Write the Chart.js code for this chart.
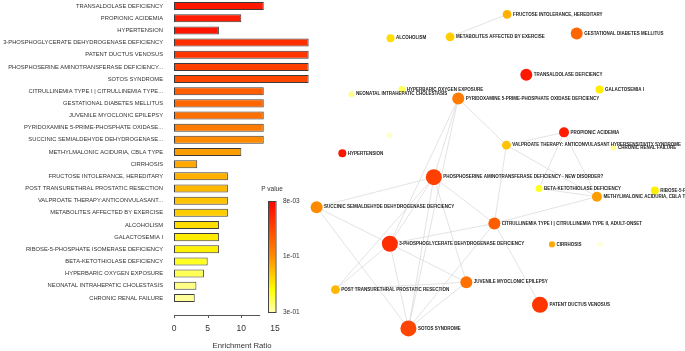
<!DOCTYPE html>
<html>
<head>
<meta charset="utf-8">
<script src="https://cdn.jsdelivr.net/npm/chart.js@4/dist/chart.umd.min.js"></script>
<style>
  body { margin: 0; background: #fff; }
  #wrap { position: relative; width: 685px; height: 351px; overflow: hidden; }
  canvas { position: absolute; left: 0; top: 0; }
</style>
</head>
<body>
<div id="wrap">
  <canvas id="bar-chart" width="310" height="351"></canvas>
  <canvas id="net-chart" width="685" height="351"></canvas>
</div>
<script>
// ---- bar panel data ----
const categories = [
  "TRANSALDOLASE DEFICIENCY", "PROPIONIC ACIDEMIA", "HYPERTENSION",
  "3-PHOSPHOGLYCERATE DEHYDROGENASE DEFICIENCY", "PATENT DUCTUS VENOSUS",
  "PHOSPHOSERINE AMINOTRANSFERASE DEFICIENCY...", "SOTOS SYNDROME",
  "CITRULLINEMIA TYPE I | CITRULLINEMIA TYPE...", "GESTATIONAL DIABETES MELLITUS",
  "JUVENILE MYOCLONIC EPILEPSY", "PYRIDOXAMINE 5-PRIME-PHOSPHATE OXIDASE...",
  "SUCCINIC SEMIALDEHYDE DEHYDROGENASE...", "METHYLMALONIC ACIDURIA, CBLA TYPE",
  "CIRRHOSIS", "FRUCTOSE INTOLERANCE, HEREDITARY", "POST TRANSURETHRAL PROSTATIC RESECTION",
  "VALPROATE THERAPY:ANTICONVULASANT...", "METABOLITES AFFECTED BY EXERCISE",
  "ALCOHOLISM", "GALACTOSEMIA I", "RIBOSE-5-PHOSPHATE ISOMERASE DEFICIENCY",
  "BETA-KETOTHIOLASE DEFICIENCY", "HYPERBARIC OXYGEN EXPOSURE",
  "NEONATAL INTRAHEPATIC CHOLESTASIS", "CHRONIC RENAL FAILURE"
];
const ratios = [13.33, 10, 6.67, 20, 20, 20, 20, 13.33, 13.33, 13.33, 13.33, 13.33, 10,
  3.45, 8, 8, 8, 8, 6.67, 6.67, 6.67, 5, 4.44, 3.33, 3.08];
const xTicks = [0, 5, 10, 15];
const pTicks = ["8e-03", "1e-01", "3e-01"];

// colour per category (p value scale)
const barColors = ["#ff1800", "#ff1c00", "#ff1400", "#ff2e00", "#ff3600", "#ff4000", "#ff4600",
  "#ff5c00", "#ff6600", "#ff7000", "#ff7a00", "#ff8a00", "#ff9c00", "#ffa800", "#ffb000",
  "#ffb800", "#ffc200", "#ffcd00", "#ffdd00", "#ffec00", "#fff000", "#ffff22", "#ffff55",
  "#ffff88", "#ffff99"];

// ---- network panel data ----
const netNames = [
  "ALCOHOLISM", "METABOLITES AFFECTED BY EXERCISE", "FRUCTOSE INTOLERANCE, HEREDITARY",
  "GESTATIONAL DIABETES MELLITUS", "TRANSALDOLASE DEFICIENCY", "GALACTOSEMIA I",
  "HYPERBARIC OXYGEN EXPOSURE", "NEONATAL INTRAHEPATIC CHOLESTASIS",
  "PYRIDOXAMINE 5-PRIME-PHOSPHATE OXIDASE DEFICIENCY", "HYPERTENSION",
  "PHOSPHOSERINE AMINOTRANSFERASE DEFICIENCY - NEW DISORDER?",
  "SUCCINIC SEMIALDEHYDE DEHYDROGENASE DEFICIENCY", "PROPIONIC ACIDEMIA",
  "VALPROATE THERAPY: ANTICONVULASANT HYPERSENSITIVITY SYNDROME", "CHRONIC RENAL FAILURE",
  "BETA-KETOTHIOLASE DEFICIENCY", "RIBOSE-5-PHOSPHATE ISOMERASE DEFICIENCY",
  "METHYLMALONIC ACIDURIA, CBLA TYPE", "CITRULLINEMIA TYPE I | CITRULLINEMIA TYPE II, ADULT-ONSET",
  "3-PHOSPHOGLYCERATE DEHYDROGENASE DEFICIENCY", "CIRRHOSIS",
  "POST TRANSURETHRAL PROSTATIC RESECTION", "JUVENILE MYOCLONIC EPILEPSY",
  "PATENT DUCTUS VENOSUS", "SOTOS SYNDROME", "", ""
];
// which bar category each node belongs to (-1 = unlabeled node)
const netCat = [18, 17, 14, 8, 0, 19, 22, 23, 10, 2, 5, 11, 1, 16, 24, 21, 20, 12, 7, 3, 13, 15, 9, 4, 6, -1, -1];
const netX = [391.7, 452.7, 511, 582.3, 530.7, 605.7, 403.3, 351.7, 461, 342.3, 436, 316, 569.3,
  510.3, 620, 543.7, 662.3, 603, 498, 391, 557, 335.3, 469.3, 544.7, 410, 390.7, 606.3];
const netY = [31.7, 30.3, 6.7, 26.7, 70, 85.3, 85.3, 90.3, 94.7, 152.3, 177.3, 208.7, 130.3,
  143.7, 146.3, 189, 191.3, 197.7, 225.7, 247, 247.7, 295, 287.3, 311, 335.7, 133, 247.7];
const extraRatio = 2.3;
const edges = [
  [1, 2],
  [8, 10], [8, 19], [8, 24], [8, 13],
  [10, 19], [10, 24], [10, 22], [10, 21], [10, 11], [10, 18],
  [11, 19], [11, 24],
  [19, 21], [19, 22], [19, 24], [19, 18],
  [21, 22], [22, 24], [18, 24], [18, 23], [18, 13], [18, 17],
  [13, 12], [13, 17], [12, 15], [12, 17], [15, 17]
];

const FONT = "'Liberation Sans', Arial, sans-serif";
const axisEnd = 12.8;

// x axis line + ticks and the p value colour bar
const barExtras = {
  id: 'barExtras',
  afterDraw(chart) {
    const ctx = chart.ctx, xs = chart.scales.x;
    const y0 = chart.chartArea.bottom + 11;
    ctx.save();
    ctx.strokeStyle = '#555';
    ctx.lineWidth = 1;
    ctx.beginPath();
    ctx.moveTo(xs.getPixelForValue(0), y0 + 0.5);
    ctx.lineTo(xs.getPixelForValue(axisEnd), y0 + 0.5);
    xTicks.forEach(v => {
      if (v <= axisEnd) {
        const px = Math.round(xs.getPixelForValue(v)) + 0.5;
        ctx.moveTo(px, y0);
        ctx.lineTo(px, y0 + 3);
      }
    });
    ctx.stroke();

    // colour bar legend
    const cx = 268, cy = 201, cw = 7.5, ch = 111;
    const g = ctx.createLinearGradient(0, cy, 0, cy + ch);
    g.addColorStop(0, '#ff0000');
    g.addColorStop(0.5, '#ff8c00');
    g.addColorStop(0.8, '#ffff00');
    g.addColorStop(1, '#ffffb0');
    ctx.fillStyle = g;
    ctx.fillRect(cx, cy, cw, ch);
    ctx.strokeStyle = '#444';
    ctx.strokeRect(cx + 0.5, cy + 0.5, cw, ch);
    ctx.fillStyle = '#333';
    ctx.font = '6.5px ' + FONT;
    ctx.textAlign = 'center';
    ctx.textBaseline = 'middle';
    ctx.fillText('P value', 272, 189.5);
    ctx.textAlign = 'left';
    pTicks.forEach((t, i) => {
      ctx.fillText(t, 283, cy + ch * i / (pTicks.length - 1));
    });
    ctx.restore();
  }
};

new Chart(document.getElementById("bar-chart"), {
  type: 'bar',
  data: {
    labels: categories,
    datasets: [{
      data: ratios,
      backgroundColor: barColors,
      borderColor: '#3c3c3c',
      borderWidth: 1,
      borderSkipped: false,
      barPercentage: 0.66,
      categoryPercentage: 1
    }]
  },
  options: {
    indexAxis: 'y',
    responsive: false,
    animation: false,
    devicePixelRatio: 1,
    layout: { padding: 0 },
    plugins: { legend: { display: false }, tooltip: { enabled: false } },
    scales: {
      y: {
        // tick gap via an invisible tick length so it does not pad the top of the plot
        grid: { display: false, drawTicks: true, tickLength: 11 },
        border: { display: false },
        ticks: { autoSkip: false, padding: 0, color: '#333', font: { family: FONT, size: 5.8, lineHeight: 0.01 } },
        afterFit: s => { s.width = 174; }
      },
      x: {
        min: 0,
        max: 20.2,
        grid: { display: false, drawTicks: false },
        border: { display: false },
        afterBuildTicks: s => { s.ticks = xTicks.map(v => ({ value: v })); },
        ticks: { padding: 20, color: '#333', font: { family: FONT, size: 8.5 } },
        title: { display: true, text: 'Enrichment Ratio', color: '#333', padding: 0, font: { family: FONT, size: 7.7 } },
        afterFit: s => { s.height = 47; }
      }
    }
  },
  plugins: [barExtras]
});

// ---- network ----
const nodeRatio = i => netCat[i] >= 0 ? ratios[netCat[i]] : extraRatio;
const nodeColor = i => netCat[i] >= 0 ? barColors[netCat[i]] : (i === 25 ? '#ffffc4' : '#ffffdc');
const nodes = netX.map((x, i) => ({ x: x, y: netY[i], r: 2 + 0.3 * nodeRatio(i) }));

const edgeSets = edges.map(([a, b]) => ({
  type: 'line',
  data: [{ x: netX[a], y: netY[a] }, { x: netX[b], y: netY[b] }],
  borderColor: '#dcdcdc',
  borderWidth: 0.8,
  pointRadius: 0,
  order: 1
}));

const nodeLabels = {
  id: 'nodeLabels',
  afterDatasetsDraw(chart) {
    const meta = chart.getDatasetMeta(chart.data.datasets.length - 1);
    const ctx = chart.ctx;
    ctx.save();
    ctx.font = 'bold 4.5px ' + FONT;
    ctx.fillStyle = '#222';
    ctx.textBaseline = 'middle';
    meta.data.forEach((el, i) => {
      if (!netNames[i]) return;
      ctx.fillText(netNames[i], el.x + el.options.radius + 1.5, el.y);
    });
    ctx.restore();
  }
};

new Chart(document.getElementById("net-chart"), {
  type: 'bubble',
  data: {
    datasets: edgeSets.concat([{
      type: 'bubble',
      data: nodes,
      backgroundColor: netX.map((x, i) => nodeColor(i)),
      borderWidth: 0,
      order: 0
    }])
  },
  options: {
    responsive: false,
    animation: false,
    devicePixelRatio: 1,
    layout: { padding: 0 },
    events: [],
    plugins: { legend: { display: false }, tooltip: { enabled: false } },
    scales: {
      x: { type: 'linear', min: 0, max: 685, display: false },
      y: { type: 'linear', min: 0, max: 351, reverse: true, display: false }
    }
  },
  plugins: [nodeLabels]
});
</script>
</body>
</html>
